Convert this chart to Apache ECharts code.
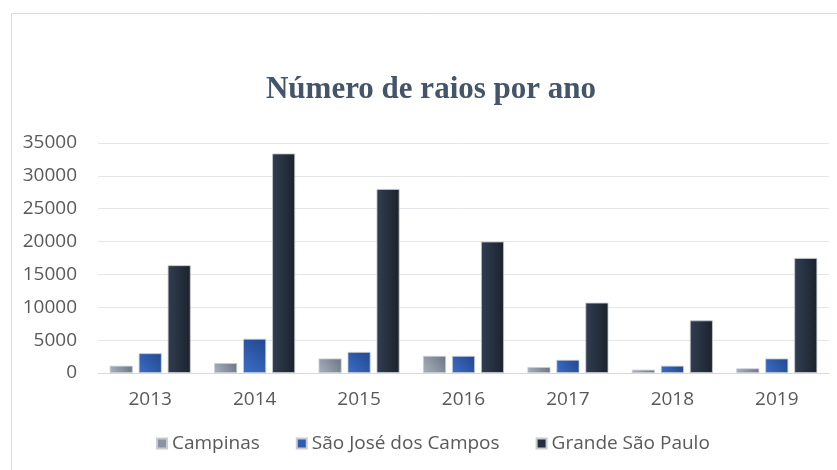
<!DOCTYPE html>
<html><head><meta charset="utf-8">
<script src="https://cdn.jsdelivr.net/npm/echarts@6/dist/echarts.min.js"></script>
<style>html,body{margin:0;padding:0;background:#fff}#c{width:837px;height:470px}</style>
</head><body><div id="c"></div>
<script>
const categories = ['2013','2014','2015','2016','2017','2018','2019'];
const campinas = [1100, 1500, 2200, 2600, 900, 500, 700];
const sjc = [3000, 5200, 3200, 2600, 2000, 1100, 2200];
const gsp = [16400, 33400, 28000, 20000, 10700, 8000, 17500];
const yTicks = [0, 5000, 10000, 15000, 20000, 25000, 30000, 35000];
const seriesNames = ['Campinas', 'São José dos Campos', 'Grande São Paulo'];

function grad(x0, y0, x1, y1, a, b) {
  return new echarts.graphic.LinearGradient(x0, y0, x1, y1, [{offset: 0, color: a}, {offset: 1, color: b}]);
}
const styles = [
  grad(0, 1, 1, 0, '#a9b1bd', '#6b7585'),
  grad(0, 1, 1, 0, '#3b6dc8', '#22488e'),
  grad(0, 0, 1, 0, '#313e51', '#1b222d')
];
const legendColors = ['#8a94a3', '#2f5cb0', '#262f3d'];
const txt = '#595959';

const chart = echarts.init(document.getElementById('c'));
chart.setOption({
  animation: false,
  title: {
    text: 'Número de raios por ano',
    left: 426, top: 69, textAlign: 'center',
    textStyle: {fontFamily: 'Liberation Serif', fontWeight: 'bold', fontSize: 31, color: '#44546a'}
  },
  graphic: [{
    type: 'rect', left: 9, top: 11, shape: {width: 900, height: 500},
    style: {fill: 'none', stroke: '#d9d9d9', lineWidth: 1}
  }],
  legend: {
    bottom: 12, left: 151, itemWidth: 10, itemHeight: 10, itemGap: 36,
    icon: 'rect',
    textStyle: {color: txt, fontSize: 19, fontFamily: 'Open Sans'},
    data: seriesNames.map((n, i) => ({name: n, itemStyle: {color: legendColors[i]}}))
  },
  grid: {left: 98, right: 8, top: 143, bottom: 97},
  xAxis: {
    type: 'category', data: categories,
    axisLine: {lineStyle: {color: '#d9d9d9'}}, axisTick: {show: false},
    axisLabel: {color: txt, fontSize: 19, fontFamily: 'Open Sans', margin: 17}
  },
  yAxis: {
    type: 'value', min: yTicks[0], max: yTicks[yTicks.length - 1], interval: 5000,
    axisLine: {show: false}, axisTick: {show: false},
    splitLine: {lineStyle: {color: '#e4e6ea'}},
    axisLabel: {color: txt, fontSize: 19, fontFamily: 'Open Sans', margin: 21, formatter: v => String(v)}
  },
  series: [campinas, sjc, gsp].map((d, i) => ({
    name: seriesNames[i], type: 'bar', data: d, barWidth: 23, barGap: '26%',
    itemStyle: {color: styles[i], borderColor: '#c8ccd2', borderWidth: 0.8}
  }))
});
</script></body></html>
